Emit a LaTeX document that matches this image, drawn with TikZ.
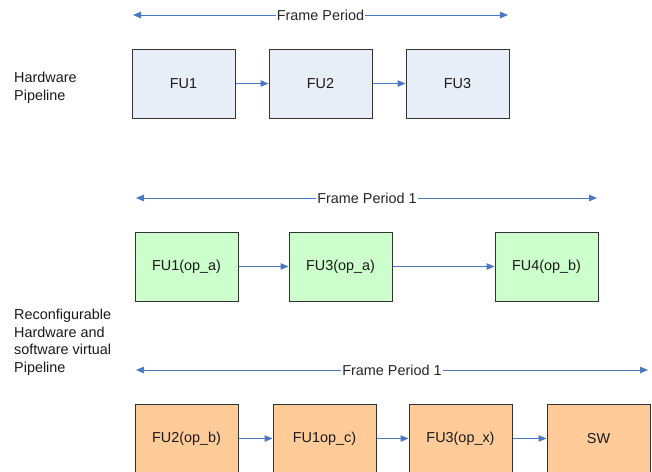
\documentclass[tikz,border=0pt]{standalone}
\usepackage{fontspec}
\setmainfont{Liberation Sans}
\usetikzlibrary{arrows.meta}
\definecolor{arrowblue}{RGB}{74,120,196}
\definecolor{boxblue}{RGB}{232,238,247}
\definecolor{boxgreen}{RGB}{204,255,204}
\definecolor{boxorange}{RGB}{255,204,153}
\definecolor{boxline}{RGB}{51,51,51}
\tikzset{
  fubox/.style={draw=boxline, line width=1pt, rectangle, minimum width=103pt, minimum height=69pt, inner sep=0pt, font=\fontsize{14.4}{17}\selectfont, text=black!90},
  hwbox/.style={fubox, fill=boxblue},
  grbox/.style={fubox, fill=boxgreen},
  orbox/.style={fubox, fill=boxorange},
  link/.style={draw=arrowblue, line width=1pt, -{Triangle[length=8pt,width=6.5pt]}},
  period/.style={draw=arrowblue, line width=1pt, {Triangle[length=8pt,width=6.5pt]}-{Triangle[length=8pt,width=6.5pt]}},
  periodtext/.style={fill=white, inner sep=1pt, font=\fontsize{14.4}{17}\selectfont, text=black!85},
  sidelabel/.style={anchor=west, align=left, inner sep=0pt, font=\fontsize{14.4}{17.5}\selectfont, text=black!90}
}
\begin{document}
\begin{tikzpicture}[x=1pt,y=-1pt]
\useasboundingbox (0,0) rectangle (652,471);
\clip (0,0) rectangle (652,471);
% top row
\coordinate (pa1) at (133,15);
\coordinate (pa2) at (508,15);
\draw[period] (pa1) -- (pa2);
\node[periodtext] (pat) at (320.5,15) {Frame Period};
\node[hwbox] (h1) at (183.5,83.5) {FU1};
\node[hwbox] (h2) at (320.5,83.5) {FU2};
\node[hwbox] (h3) at (457.5,83.5) {FU3};
\draw[link] (h1) -- (h2);
\draw[link] (h2) -- (h3);
\node[sidelabel] (lab1) at (14,88) {Hardware\\Pipeline};
% middle row
\coordinate (pb1) at (136,198);
\coordinate (pb2) at (597,198);
\draw[period] (pb1) -- (pb2);
\node[periodtext] (pbt) at (367,198) {Frame Period 1};
\node[grbox] (g1) at (186.5,266.5) {FU1(op\_a)};
\node[grbox] (g2) at (340.5,266.5) {FU3(op\_a)};
\node[grbox] (g3) at (546.5,266.5) {FU4(op\_b)};
\draw[link] (g1) -- (g2);
\draw[link] (g2) -- (g3);
\node[sidelabel] (lab2) at (14,342.5) {Reconfigurable\\Hardware and\\software virtual\\Pipeline};
% bottom row
\coordinate (pc1) at (136,370);
\coordinate (pc2) at (648,370);
\draw[period] (pc1) -- (pc2);
\node[periodtext] (pct) at (392,370) {Frame Period 1};
\node[orbox] (o1) at (186.5,438.5) {FU2(op\_b)};
\node[orbox] (o2) at (324.5,438.5) {FU1op\_c)};
\node[orbox] (o3) at (460.5,438.5) {FU3(op\_x)};
\node[orbox] (o4) at (598.5,438.5) {SW};
\draw[link] (o1) -- (o2);
\draw[link] (o2) -- (o3);
\draw[link] (o3) -- (o4);
\end{tikzpicture}
\end{document}
